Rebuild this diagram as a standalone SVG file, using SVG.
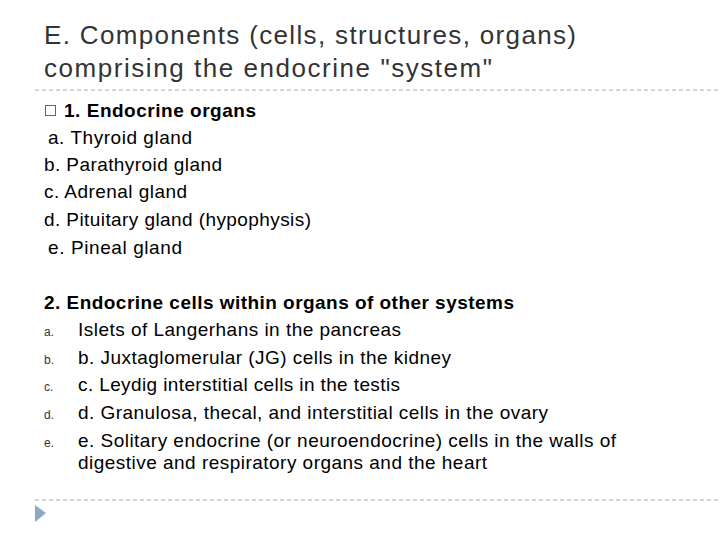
<svg xmlns="http://www.w3.org/2000/svg" width="720" height="540" viewBox="0 0 720 540">
<style>
.t{font-family:"Liberation Sans",Arial,sans-serif;fill:#000}
.h{font-size:26px;fill:#333}
.b{font-size:19px}
.bb{font-size:19px;font-weight:bold}
.s{font-size:12px;fill:#333}
.d{stroke:#aaa;stroke-width:1;stroke-dasharray:4 3}
</style>
<rect width="720" height="540" fill="#fff"/>
<text class="t h" x="44" y="44" textLength="532" lengthAdjust="spacing">E. Components (cells, structures, organs)</text>
<text class="t h" x="44" y="77" textLength="448" lengthAdjust="spacing">comprising the endocrine "system"</text>
<line class="d" x1="35" y1="90" x2="720" y2="90"/>
<rect x="45.5" y="105.5" width="10" height="10" fill="none" stroke="#666"/>
<text class="t bb" x="64" y="117" textLength="192" lengthAdjust="spacing">1. Endocrine organs</text>
<text class="t b" x="48" y="144" textLength="144" lengthAdjust="spacing">a. Thyroid gland</text>
<text class="t b" x="44" y="171" textLength="178" lengthAdjust="spacing">b. Parathyroid gland</text>
<text class="t b" x="44" y="198" textLength="143" lengthAdjust="spacing">c. Adrenal gland</text>
<text class="t b" x="44" y="226" textLength="267" lengthAdjust="spacing">d. Pituitary gland (hypophysis)</text>
<text class="t b" x="48" y="254" textLength="134" lengthAdjust="spacing">e. Pineal gland</text>
<text class="t bb" x="44" y="309" textLength="470" lengthAdjust="spacing">2. Endocrine cells within organs of other systems</text>
<text class="t s" x="44" y="336">a.</text>
<text class="t b" x="78" y="336" textLength="323" lengthAdjust="spacing">Islets of Langerhans in the pancreas</text>
<text class="t s" x="44" y="364">b.</text>
<text class="t b" x="78" y="364" textLength="373" lengthAdjust="spacing">b. Juxtaglomerular (JG) cells in the kidney</text>
<text class="t s" x="44" y="391">c.</text>
<text class="t b" x="78" y="391" textLength="322" lengthAdjust="spacing">c. Leydig interstitial cells in the testis</text>
<text class="t s" x="44" y="419">d.</text>
<text class="t b" x="78" y="419" textLength="470" lengthAdjust="spacing">d. Granulosa, thecal, and interstitial cells in the ovary</text>
<text class="t s" x="44" y="447">e.</text>
<text class="t b" x="78" y="447" textLength="538" lengthAdjust="spacing">e. Solitary endocrine (or neuroendocrine) cells in the walls of</text>
<text class="t b" x="78" y="469" textLength="409" lengthAdjust="spacing">digestive and respiratory organs and the heart</text>
<line class="d" x1="35" y1="500" x2="720" y2="500"/>
<polygon points="35,505 46,513 35,522" fill="#8fa8c8"/>
</svg>
